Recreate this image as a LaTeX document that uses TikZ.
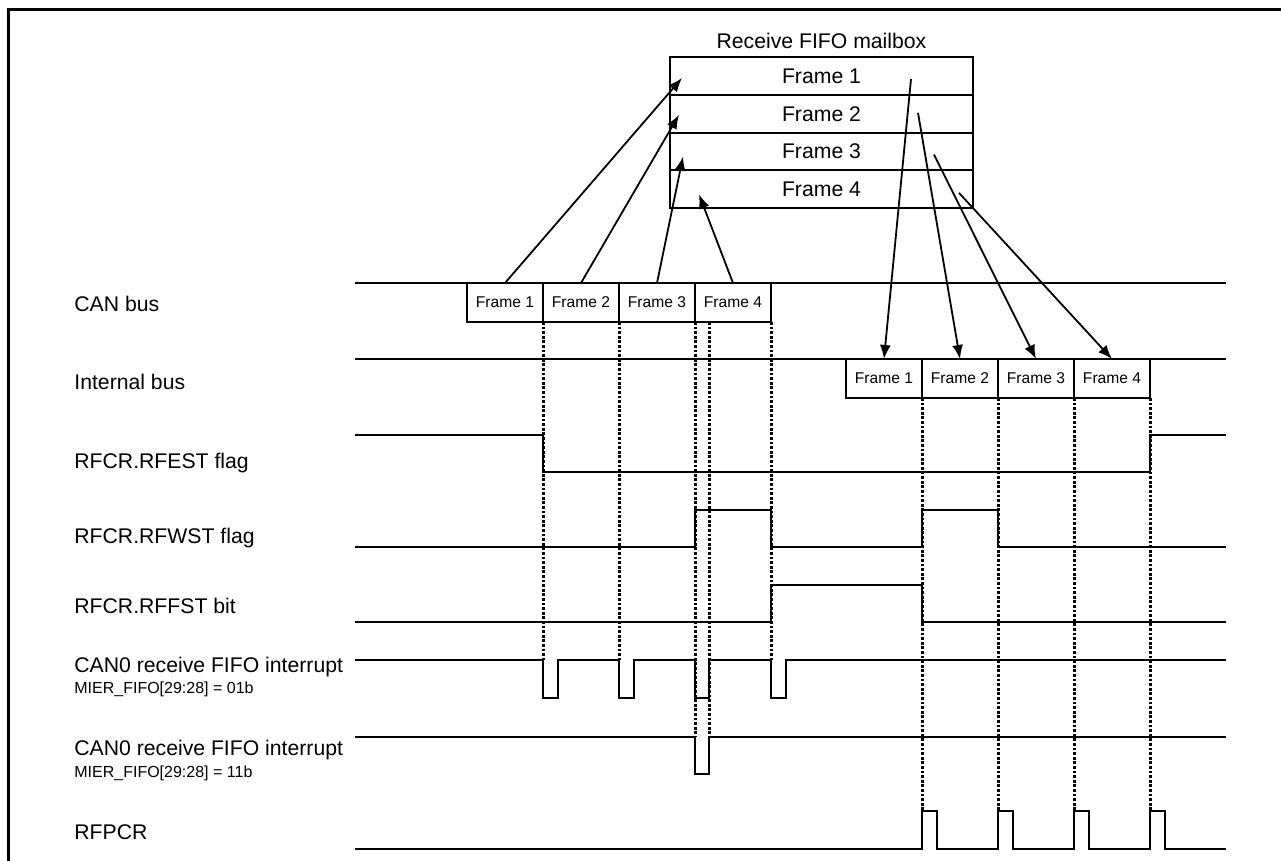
\documentclass[tikz,border=0pt]{standalone}
\usepackage{fontspec}
\setmainfont{Liberation Sans}
\usepackage{tikz}
\usetikzlibrary{arrows.meta,positioning,calc}
\tikzset{
  lbl/.style    = {anchor=base west, inner sep=0pt, font=\fontsize{10.6}{12}\selectfont},
  sublbl/.style = {lbl, font=\fontsize{8}{9.6}\selectfont},
  frm/.style    = {rectangle, draw, line width=1pt, outer sep=0pt, inner sep=0pt,
                   minimum width=38pt, minimum height=19.5pt, font=\fontsize{7.8}{9}\selectfont},
  slot/.style   = {rectangle, draw, line width=1pt, outer sep=0pt, inner sep=0pt,
                   minimum width=151.5pt, minimum height=18.9pt, font=\fontsize{10.6}{12}\selectfont},
  sig/.style    = {line width=1pt},
  fl/.style     = {-{Latex[length=7pt,width=5.5pt]}, line width=0.9pt},
  vdot/.style   = {dash pattern=on 1.4pt off 0.9pt, line width=1.5pt},
}
\begin{document}
\begin{tikzpicture}[x=0.5pt,y=-0.5pt]
\useasboundingbox (0,0) rectangle (1281,861);
% frame of the figure
\draw[line width=1.5pt] (8,861) -- (8,10) -- (1281,10);
% signal names
\node[lbl] (lcan) at (74,312) {CAN bus};
\node[lbl] (lint) at (74,390) {Internal bus};
\node[lbl] (lest) at (74,468) {RFCR.RFEST flag};
\node[lbl] (lwst) at (74,544) {RFCR.RFWST flag};
\node[lbl] (lfst) at (74,613) {RFCR.RFFST bit};
\node[lbl] (lirqa) at (74,672) {CAN0 receive FIFO interrupt};
\node[sublbl] (lirqa2) at (74,693) {MIER\_FIFO[29:28] = 01b};
\node[lbl] (lirqb) at (74,755) {CAN0 receive FIFO interrupt};
\node[sublbl] (lirqb2) at (74,777) {MIER\_FIFO[29:28] = 11b};
\node[lbl] (lpcr) at (74,839) {RFPCR};
% bus lines
\draw[sig] (355,283) -- (1226,283);
\draw[sig] (355,359) -- (1226,359);
% mailbox
\node[slot] (m1) at (821.5,76) {Frame 1};
\node[slot, below=0pt of m1] (m2) {Frame 2};
\node[slot, below=0pt of m2] (m3) {Frame 3};
\node[slot, below=0pt of m3] (m4) {Frame 4};
\node[inner sep=0pt, font=\fontsize{10.6}{12}\selectfont, above=4pt of m1] (mbox) {Receive FIFO mailbox};
% frames on CAN bus
\node[frm, fill=white] (c1) at (505,302.5) {Frame 1};
\node[frm, fill=white, right=0pt of c1] (c2) {Frame 2};
\node[frm, fill=white, right=0pt of c2] (c3) {Frame 3};
\node[frm, fill=white, right=0pt of c3] (c4) {Frame 4};
% frames on internal bus
\node[frm, fill=white] (i1) at (884,378.5) {Frame 1};
\node[frm, fill=white, right=0pt of i1] (i2) {Frame 2};
\node[frm, fill=white, right=0pt of i2] (i3) {Frame 3};
\node[frm, fill=white, right=0pt of i3] (i4) {Frame 4};
% store into mailbox
\draw[fl] (c1.north) -- ($(m1.west)+(12,2)$);
\draw[fl] (c2.north) -- ($(m2.west)+(9,1)$);
\draw[fl] (c3.north) -- ($(m3.west)+(13,5)$);
\draw[fl] (c4.north) -- ($(m4.west)+(29,5)$);
% read out of mailbox
\draw[fl] ($(m1.east)+(-62,3)$) -- (i1.north);
\draw[fl] ($(m2.east)+(-55,-1)$) -- (i2.north);
\draw[fl] ($(m3.east)+(-39,3)$) -- (i3.north);
\draw[fl] ($(m4.east)+(-14,3.5)$) -- (i4.north);
% waveforms
\draw[sig] (355,435) -- (543,435) -- (543,472) -- (1150,472) -- (1150,435) -- (1226,435);
\draw[sig] (355,547) -- (695,547) -- (695,510) -- (771,510) -- (771,547) -- (922,547)
  -- (922,510) -- (998,510) -- (998,547) -- (1226,547);
\draw[sig] (355,622) -- (771,622) -- (771,585) -- (922,585) -- (922,622) -- (1226,622);
\draw[sig] (355,660) -- (543,660) -- (543,698) -- (558,698) -- (558,660) -- (619,660)
  -- (619,698) -- (634,698) -- (634,660) -- (695,660) -- (695,698) -- (709,698)
  -- (709,660) -- (771,660) -- (771,698) -- (786,698) -- (786,660) -- (1226,660);
\draw[sig] (355,737) -- (695,737) -- (695,774) -- (709,774) -- (709,737) -- (1226,737);
\draw[sig] (355,849) -- (922,849) -- (922,811) -- (937,811) -- (937,849) -- (998,849)
  -- (998,811) -- (1013,811) -- (1013,849) -- (1074,849) -- (1074,811) -- (1089,811)
  -- (1089,849) -- (1150,849) -- (1150,811) -- (1165,811) -- (1165,849) -- (1226,849);
% timing guides
\draw[vdot] (c1.south east) -- ++(0,338);
\draw[vdot] (c2.south east) -- ++(0,338);
\draw[vdot] (c3.south east) -- ++(0,415);
\draw[vdot] ($(c3.south east)+(14,0)$) -- ++(0,415);
\draw[vdot] (c4.south east) -- ++(0,338);
\draw[vdot] (i1.south east) -- ++(0,414);
\draw[vdot] (i2.south east) -- ++(0,414);
\draw[vdot] (i3.south east) -- ++(0,414);
\draw[vdot] (i4.south east) -- ++(0,414);
\end{tikzpicture}
\end{document}
